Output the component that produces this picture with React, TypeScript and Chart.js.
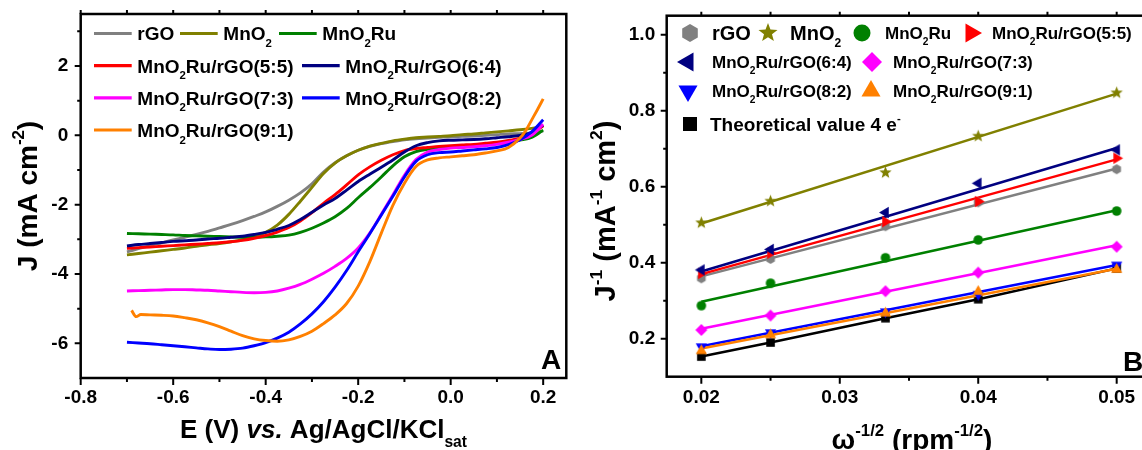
import React, { useEffect, useRef } from 'react';
import { Chart, registerables } from 'chart.js';

Chart.register(...registerables);

const FONT = '"Liberation Sans", Arial, Helvetica, sans-serif';

// ================= Panel A : LSV curves, J (mA cm^-2) vs E (V) =================
const E_GRID = [-0.700, -0.675, -0.650, -0.625, -0.600, -0.575, -0.550, -0.525, -0.500, -0.475, -0.450, -0.425, -0.400, -0.375, -0.350, -0.325, -0.300, -0.275, -0.250, -0.225, -0.200, -0.175, -0.150, -0.125, -0.100, -0.075, -0.050, -0.025, 0.000, 0.025, 0.050, 0.075, 0.100, 0.125, 0.150, 0.175, 0.200];
const J_RGO = [-3.36, -3.27, -3.18, -3.10, -3.02, -2.94, -2.86, -2.77, -2.67, -2.57, -2.46, -2.34, -2.21, -2.05, -1.87, -1.66, -1.40, -1.06, -0.79, -0.59, -0.43, -0.32, -0.24, -0.18, -0.13, -0.10, -0.08, -0.06, -0.04, -0.03, -0.02, 0.00, 0.02, 0.04, 0.05, 0.07, 0.12];
const J_MNO2 = [-3.45, -3.41, -3.37, -3.33, -3.29, -3.25, -3.20, -3.16, -3.12, -3.07, -3.01, -2.93, -2.80, -2.59, -2.28, -1.90, -1.50, -1.10, -0.80, -0.59, -0.43, -0.31, -0.23, -0.16, -0.11, -0.07, -0.05, -0.03, -0.01, 0.02, 0.04, 0.07, 0.10, 0.13, 0.16, 0.20, 0.25];
const J_MNO2RU = [-2.83, -2.84, -2.85, -2.86, -2.87, -2.89, -2.90, -2.91, -2.92, -2.93, -2.94, -2.94, -2.93, -2.91, -2.88, -2.80, -2.68, -2.53, -2.35, -2.11, -1.80, -1.51, -1.20, -0.88, -0.62, -0.47, -0.40, -0.36, -0.33, -0.31, -0.29, -0.27, -0.24, -0.20, -0.14, -0.06, 0.15];
const J_55 = [-3.26, -3.24, -3.22, -3.20, -3.18, -3.16, -3.14, -3.12, -3.10, -3.07, -3.03, -2.97, -2.89, -2.79, -2.66, -2.47, -2.23, -1.96, -1.71, -1.43, -1.14, -0.91, -0.72, -0.56, -0.44, -0.38, -0.35, -0.32, -0.30, -0.28, -0.26, -0.23, -0.20, -0.15, -0.08, 0.03, 0.28];
const J_64 = [-3.19, -3.15, -3.12, -3.09, -3.06, -3.04, -3.02, -2.99, -2.97, -2.94, -2.91, -2.86, -2.80, -2.71, -2.60, -2.43, -2.22, -2.01, -1.82, -1.58, -1.33, -1.12, -0.92, -0.71, -0.48, -0.30, -0.21, -0.16, -0.14, -0.13, -0.12, -0.10, -0.07, -0.04, 0.00, 0.08, 0.30];
const J_73 = [-4.49, -4.48, -4.47, -4.46, -4.45, -4.45, -4.46, -4.47, -4.49, -4.51, -4.53, -4.54, -4.53, -4.49, -4.41, -4.30, -4.15, -3.98, -3.78, -3.55, -3.25, -2.82, -2.28, -1.72, -1.15, -0.70, -0.48, -0.41, -0.37, -0.35, -0.33, -0.30, -0.26, -0.20, -0.12, 0.00, 0.32];
const J_82 = [-5.97, -5.99, -6.01, -6.04, -6.07, -6.10, -6.13, -6.16, -6.18, -6.17, -6.14, -6.07, -5.98, -5.85, -5.68, -5.44, -5.15, -4.80, -4.38, -3.90, -3.36, -2.84, -2.30, -1.76, -1.20, -0.75, -0.56, -0.50, -0.48, -0.45, -0.42, -0.39, -0.35, -0.27, -0.13, 0.10, 0.45];
const E_91 = [-0.69, -0.68, -0.67, -0.65, -0.625, -0.600, -0.575, -0.550, -0.525, -0.500, -0.475, -0.450, -0.425, -0.400, -0.375, -0.350, -0.325, -0.300, -0.275, -0.250, -0.225, -0.200, -0.175, -0.150, -0.125, -0.100, -0.075, -0.050, -0.025, 0.000, 0.025, 0.050, 0.075, 0.100, 0.125, 0.150, 0.1625, 0.175, 0.1875, 0.200];
const J_91 = [-5.05, -5.23, -5.17, -5.18, -5.19, -5.21, -5.26, -5.32, -5.41, -5.52, -5.65, -5.78, -5.87, -5.92, -5.94, -5.90, -5.80, -5.65, -5.43, -5.18, -4.85, -4.35, -3.65, -2.82, -2.02, -1.38, -0.90, -0.71, -0.65, -0.62, -0.59, -0.56, -0.51, -0.45, -0.35, -0.08, 0.14, 0.44, 0.74, 1.05];

const LABELS = ['rGO', 'MnO_{2}', 'MnO_{2}Ru', 'MnO_{2}Ru/rGO(5:5)', 'MnO_{2}Ru/rGO(6:4)', 'MnO_{2}Ru/rGO(7:3)', 'MnO_{2}Ru/rGO(8:2)', 'MnO_{2}Ru/rGO(9:1)'];
const COLORS = ['#808080', '#808000', '#008000', '#ff0000', '#000080', '#ff00ff', '#0000ff', '#ff8000'];

const A_X_MAJOR = [-0.8, -0.6, -0.4, -0.2, 0.0, 0.2];
const A_X_MINOR = [-0.7, -0.5, -0.3, -0.1, 0.1];
const A_Y_MAJOR = [-6, -4, -2, 0, 2];
const A_Y_MINOR = [-5, -3, -1, 1, 3];
const A_X_TITLE = 'E (V) *vs.* Ag/AgCl/KCl_{sat}';
const A_Y_TITLE = 'J (mA cm^{-2})';

// ================= Panel B : Koutecky-Levich, 1/J vs w^-1/2 =================
const W_INV_SQRT = [0.02, 0.025, 0.0333, 0.04, 0.05];
const KL_RGO = [0.359, 0.410, 0.496, 0.559, 0.646];
const KL_MNO2 = [0.505, 0.562, 0.637, 0.733, 0.847];
const KL_MNO2RU = [0.287, 0.346, 0.413, 0.460, 0.536];
const KL_55 = [0.372, 0.425, 0.508, 0.561, 0.675];
const KL_64 = [0.381, 0.435, 0.532, 0.609, 0.697];
const KL_73 = [0.223, 0.261, 0.325, 0.374, 0.442];
const KL_82 = [0.179, 0.216, 0.271, 0.317, 0.394];
const KL_91 = [0.168, 0.210, 0.267, 0.324, 0.382];
const KL_THEO = [0.153, 0.190, 0.254, 0.304, 0.385];

const FIT_X = [0.02, 0.05];
const FIT_RGO = [0.364, 0.648];
const FIT_MNO2 = [0.503, 0.845];
const FIT_MNO2RU = [0.297, 0.538];
const FIT_55 = [0.370, 0.672];
const FIT_64 = [0.377, 0.702];
const FIT_73 = [0.226, 0.446];
const FIT_82 = [0.180, 0.394];
const FIT_91 = [0.174, 0.384];

const THEO_LABEL = 'Theoretical value 4 e^{-}';
const SHAPES = ['hexagon', 'star', 'circle', 'triRight', 'triLeft', 'diamond', 'triDown', 'triUp'];

const B_X_MAJOR = [0.02, 0.03, 0.04, 0.05];
const B_X_MINOR = [0.025, 0.035, 0.045];
const B_Y_MAJOR = [0.2, 0.4, 0.6, 0.8, 1.0];
const B_Y_MINOR = [0.3, 0.5, 0.7, 0.9];
const B_X_TITLE = 'ω^{-1/2} (rpm^{-1/2})';
const B_Y_TITLE = 'J^{-1} (mA^{-1} cm^{2})';

// ================= helpers =================
type Seg = { t: string; sub?: boolean; sup?: boolean; it?: boolean };

function parseRich(s: string): Seg[] {
  const segs: Seg[] = [];
  let buf = '';
  let it = false;
  let i = 0;
  const flush = () => {
    if (buf) { segs.push({ t: buf, it }); buf = ''; }
  };
  while (i < s.length) {
    const c = s[i];
    if ((c === '_' || c === '^') && s[i + 1] === '{') {
      flush();
      const end = s.indexOf('}', i + 2);
      segs.push({ t: s.slice(i + 2, end), sub: c === '_', sup: c === '^', it });
      i = end + 1;
      continue;
    }
    if (c === '*') { flush(); it = !it; i++; continue; }
    buf += c;
    i++;
  }
  flush();
  return segs;
}

function segFont(sg: Seg, size: number) {
  const sz = sg.sub || sg.sup ? size * 0.6 : size;
  return `${sg.it ? 'italic ' : ''}bold ${sz}px ${FONT}`;
}

function drawRich(ctx: CanvasRenderingContext2D, s: string, x: number, y: number, size: number, align: 'left' | 'center' | 'right', color = '#000') {
  const segs = parseRich(s);
  ctx.save();
  let w = 0;
  const widths = segs.map((sg) => {
    ctx.font = segFont(sg, size);
    const m = ctx.measureText(sg.t).width;
    w += m;
    return m;
  });
  let cx = align === 'left' ? x : align === 'center' ? x - w / 2 : x - w;
  ctx.fillStyle = color;
  ctx.textAlign = 'left';
  ctx.textBaseline = 'alphabetic';
  segs.forEach((sg, k) => {
    ctx.font = segFont(sg, size);
    const dy = sg.sub ? size * 0.36 : sg.sup ? -size * 0.45 : 0;
    ctx.fillText(sg.t, cx, y + dy);
    cx += widths[k];
  });
  ctx.restore();
  return w;
}

function markerPath(ctx: CanvasRenderingContext2D, shape: string, x: number, y: number, r: number) {
  ctx.beginPath();
  if (shape === 'circle') {
    ctx.arc(x, y, r, 0, Math.PI * 2);
  } else if (shape === 'square') {
    ctx.rect(x - r, y - r, 2 * r, 2 * r);
  } else if (shape === 'diamond') {
    ctx.moveTo(x, y - r); ctx.lineTo(x + r, y); ctx.lineTo(x, y + r); ctx.lineTo(x - r, y);
  } else if (shape === 'hexagon') {
    for (let k = 0; k < 6; k++) {
      const a = -Math.PI / 2 + (k * Math.PI) / 3;
      const px = x + r * Math.cos(a);
      const py = y + r * Math.sin(a);
      if (k) ctx.lineTo(px, py); else ctx.moveTo(px, py);
    }
  } else if (shape === 'star') {
    for (let k = 0; k < 10; k++) {
      const a = -Math.PI / 2 + (k * Math.PI) / 5;
      const rr = k % 2 ? r * 0.42 : r;
      const px = x + rr * Math.cos(a);
      const py = y + rr * Math.sin(a);
      if (k) ctx.lineTo(px, py); else ctx.moveTo(px, py);
    }
  } else {
    const base = shape === 'triUp' ? -90 : shape === 'triDown' ? 90 : shape === 'triLeft' ? 180 : 0;
    for (let k = 0; k < 3; k++) {
      const a = ((base + k * 120) * Math.PI) / 180;
      const px = x + r * Math.cos(a);
      const py = y + r * Math.sin(a);
      if (k) ctx.lineTo(px, py); else ctx.moveTo(px, py);
    }
  }
  ctx.closePath();
}

function drawMarker(ctx: CanvasRenderingContext2D, shape: string, x: number, y: number, r: number, color: string) {
  ctx.save();
  ctx.fillStyle = color;
  markerPath(ctx, shape, x, y, r);
  ctx.fill();
  ctx.restore();
}

function markerImage(shape: string, r: number, color: string) {
  const c = document.createElement('canvas');
  const s = Math.ceil(2 * r + 2);
  c.width = s;
  c.height = s;
  const cx = c.getContext('2d') as CanvasRenderingContext2D;
  drawMarker(cx, shape, s / 2, s / 2, r, color);
  return c;
}

function drawBoxAndTicks(ctx: CanvasRenderingContext2D, ca: any, sx: any, sy: any, xMaj: number[], xMin: number[], yMaj: number[], yMin: number[]) {
  ctx.save();
  ctx.strokeStyle = '#000';
  ctx.lineWidth = 2;
  ctx.beginPath();
  const seg = (x1: number, y1: number, x2: number, y2: number) => { ctx.moveTo(x1, y1); ctx.lineTo(x2, y2); };
  xMaj.forEach((v) => { const x = sx.getPixelForValue(v); seg(x, ca.bottom, x, ca.bottom + 7); seg(x, ca.top, x, ca.top - 4); });
  xMin.forEach((v) => { const x = sx.getPixelForValue(v); seg(x, ca.bottom, x, ca.bottom + 4); seg(x, ca.top, x, ca.top - 4); });
  yMaj.forEach((v) => { const y = sy.getPixelForValue(v); seg(ca.left, y, ca.left - 6, y); });
  yMin.forEach((v) => { const y = sy.getPixelForValue(v); seg(ca.left, y, ca.left - 3.5, y); });
  ctx.stroke();
  ctx.lineWidth = 2.5;
  ctx.strokeRect(ca.left, ca.top, ca.right - ca.left, ca.bottom - ca.top);
  ctx.restore();
}

const tickFont = { family: FONT, weight: 'bold' as const, size: 19 };

// layout (positions only)
const A_CANVAS_W = 575;
const B_CANVAS_LEFT = 575;
const B_CANVAS_W = 590;
const A_LEGEND_POS = [[94, 0], [180, 0], [279, 0], [94, 1], [302, 1], [94, 2], [302, 2], [94, 3]];
const A_LEGEND_ROWS = [33.5, 65.7, 97.8, 130];
const B_LEGEND_POS = [[690, 712, 0, 20], [768, 790, 0, 20], [862, 885, 0, 17], [971, 992, 0, 17], [688, 712, 1, 17], [872, 893, 1, 17], [688, 712, 2, 17], [871, 893, 2, 17], [690, 710, 3, 19]];
const B_LEGEND_ROWS = [33, 62, 91, 124];
const B_LEGEND_R = [9, 10, 8.5, 11, 11, 10, 11, 11, 7];
const B_POINT_R = [5, 6.5, 4.8, 6.5, 6.5, 6, 6.5, 6.5, 4.3];

export default function App() {
  const refA = useRef<HTMLCanvasElement>(null);
  const refB = useRef<HTMLCanvasElement>(null);

  useEffect(() => {
    const seriesA = [
      { e: E_GRID, j: J_RGO }, { e: E_GRID, j: J_MNO2 }, { e: E_GRID, j: J_MNO2RU },
      { e: E_GRID, j: J_55 }, { e: E_GRID, j: J_64 }, { e: E_GRID, j: J_73 },
      { e: E_GRID, j: J_82 }, { e: E_91, j: J_91 },
    ];

    const pluginA = {
      id: 'panelA',
      afterDraw(chart: any) {
        const { ctx, chartArea: ca, scales } = chart;
        drawBoxAndTicks(ctx, ca, scales.x, scales.y, A_X_MAJOR, A_X_MINOR, A_Y_MAJOR, A_Y_MINOR);
        LABELS.forEach((lab, i) => {
          const [lx, row] = A_LEGEND_POS[i];
          const cy = A_LEGEND_ROWS[row];
          ctx.save();
          ctx.strokeStyle = COLORS[i];
          ctx.lineWidth = 3.2;
          ctx.beginPath();
          ctx.moveTo(lx, cy);
          ctx.lineTo(lx + 37.7, cy);
          ctx.stroke();
          ctx.restore();
          drawRich(ctx, lab, lx + 43.3, cy + 6.8, 19, 'left');
        });
        drawRich(ctx, A_X_TITLE, (ca.left + ca.right) / 2, 437.7, 26, 'center');
        ctx.save();
        ctx.translate(36.7, (ca.top + ca.bottom) / 2);
        ctx.rotate(-Math.PI / 2);
        drawRich(ctx, A_Y_TITLE, 0, 0, 28, 'center');
        ctx.restore();
        drawRich(ctx, 'A', ca.right - 5, ca.bottom - 9, 28, 'right');
      },
    };

    const chartA = new Chart(refA.current as HTMLCanvasElement, {
      type: 'line',
      data: {
        datasets: seriesA.map((s, i) => ({
          label: LABELS[i],
          data: s.e.map((x, k) => ({ x, y: s.j[k] })),
          borderColor: COLORS[i],
          backgroundColor: COLORS[i],
          borderWidth: 2.9,
          pointRadius: 0,
          fill: false,
          cubicInterpolationMode: 'monotone' as const,
          order: 8 - i,
        })),
      },
      options: {
        animation: false,
        responsive: false,
        events: [],
        layout: { padding: { top: 14, right: A_CANVAS_W - 566.3, left: 0, bottom: 0 } },
        plugins: { legend: { display: false }, tooltip: { enabled: false } },
        scales: {
          x: {
            type: 'linear', min: -0.8, max: 0.25,
            grid: { display: false, drawTicks: false }, border: { display: false },
            ticks: { font: tickFont, color: '#000', padding: 8, maxRotation: 0, autoSkip: false, callback: (v: any) => Number(v).toFixed(1) },
            afterBuildTicks: (s: any) => { s.ticks = A_X_MAJOR.map((v) => ({ value: v })); },
            afterFit: (s: any) => { s.height = 72; s.paddingLeft = 0; s.paddingRight = 0; s.paddingTop = 0; s.paddingBottom = 0; },
          },
          y: {
            type: 'linear', min: -7, max: 3.5,
            grid: { display: false, drawTicks: false }, border: { display: false },
            ticks: { font: tickFont, color: '#000', padding: 12.5, autoSkip: false, callback: (v: any) => String(Math.round(Number(v))) },
            afterBuildTicks: (s: any) => { s.ticks = A_Y_MAJOR.map((v) => ({ value: v })); },
            afterFit: (s: any) => { s.width = 80.7; s.paddingLeft = 0; s.paddingRight = 0; s.paddingTop = 0; s.paddingBottom = 0; },
          },
        },
      } as any,
      plugins: [pluginA],
    });

    // ---------- Panel B ----------
    const klPts = [KL_RGO, KL_MNO2, KL_MNO2RU, KL_55, KL_64, KL_73, KL_82, KL_91];
    const klFits = [FIT_RGO, FIT_MNO2, FIT_MNO2RU, FIT_55, FIT_64, FIT_73, FIT_82, FIT_91];
    const datasetsB: any[] = [];
    datasetsB.push({
      type: 'scatter',
      label: THEO_LABEL,
      data: W_INV_SQRT.map((x, k) => ({ x, y: KL_THEO[k] })),
      showLine: true,
      borderColor: '#000',
      borderWidth: 2.5,
      pointStyle: markerImage('square', B_POINT_R[8], '#000'),
      pointRadius: 5,
      order: 20,
    });
    klFits.forEach((f, i) => {
      datasetsB.push({
        type: 'line',
        label: LABELS[i] + ' fit',
        data: FIT_X.map((x, k) => ({ x, y: f[k] })),
        borderColor: COLORS[i],
        borderWidth: 2.5,
        pointRadius: 0,
        fill: false,
        order: 10 + (8 - i),
      });
    });
    klPts.forEach((p, i) => {
      datasetsB.push({
        type: 'scatter',
        label: LABELS[i],
        data: W_INV_SQRT.map((x, k) => ({ x, y: p[k] })),
        showLine: false,
        pointStyle: markerImage(SHAPES[i], B_POINT_R[i], COLORS[i]),
        pointRadius: 6,
        order: 8 - i,
      });
    });

    const pluginB = {
      id: 'panelB',
      afterDraw(chart: any) {
        const { ctx, chartArea: ca, scales } = chart;
        drawBoxAndTicks(ctx, ca, scales.x, scales.y, B_X_MAJOR, B_X_MINOR, B_Y_MAJOR, B_Y_MINOR);
        const legendLabels = [...LABELS, THEO_LABEL];
        const legendShapes = [...SHAPES, 'square'];
        const legendColors = [...COLORS, '#000'];
        legendLabels.forEach((lab, i) => {
          const [mx, tx, row, fs] = B_LEGEND_POS[i];
          const cy = B_LEGEND_ROWS[row];
          drawMarker(ctx, legendShapes[i], mx - B_CANVAS_LEFT, cy, B_LEGEND_R[i], legendColors[i]);
          drawRich(ctx, lab, tx - B_CANVAS_LEFT, cy + fs * 0.36, fs, 'left');
        });
        drawRich(ctx, B_X_TITLE, 912 - B_CANVAS_LEFT, 449, 28, 'center');
        ctx.save();
        ctx.translate(615 - B_CANVAS_LEFT, 211);
        ctx.rotate(-Math.PI / 2);
        drawRich(ctx, B_Y_TITLE, 0, 0, 29, 'center');
        ctx.restore();
        drawRich(ctx, 'B', ca.right - 8, ca.bottom - 6, 28, 'right');
      },
    };

    const chartB = new Chart(refB.current as HTMLCanvasElement, {
      type: 'scatter',
      data: { datasets: datasetsB },
      options: {
        animation: false,
        responsive: false,
        events: [],
        layout: { padding: { top: 15.7, right: B_CANVAS_W - (1151.3 - B_CANVAS_LEFT), left: 0, bottom: 0 } },
        plugins: { legend: { display: false }, tooltip: { enabled: false } },
        scales: {
          x: {
            type: 'linear', min: 0.0175, max: 0.0525,
            grid: { display: false, drawTicks: false }, border: { display: false },
            ticks: { font: tickFont, color: '#000', padding: 10, maxRotation: 0, autoSkip: false, callback: (v: any) => Number(v).toFixed(2) },
            afterBuildTicks: (s: any) => { s.ticks = B_X_MAJOR.map((v) => ({ value: v })); },
            afterFit: (s: any) => { s.height = 450 - 376.7; s.paddingLeft = 0; s.paddingRight = 0; s.paddingTop = 0; s.paddingBottom = 0; },
          },
          y: {
            type: 'linear', min: 0.1, max: 1.05,
            grid: { display: false, drawTicks: false }, border: { display: false },
            ticks: { font: tickFont, color: '#000', padding: 11.5, autoSkip: false, callback: (v: any) => Number(v).toFixed(1) },
            afterBuildTicks: (s: any) => { s.ticks = B_Y_MAJOR.map((v) => ({ value: v })); },
            afterFit: (s: any) => { s.width = 666.7 - B_CANVAS_LEFT; s.paddingLeft = 0; s.paddingRight = 0; s.paddingTop = 0; s.paddingBottom = 0; },
          },
        },
      } as any,
      plugins: [pluginB],
    });

    return () => {
      chartA.destroy();
      chartB.destroy();
    };
  }, []);

  return (
    <div style={{ position: 'fixed', left: 0, top: 0, width: 1142, height: 450, overflow: 'hidden', background: '#fff' }}>
      <canvas ref={refA} width={A_CANVAS_W} height={450} style={{ position: 'absolute', left: 0, top: 0 }} />
      <canvas ref={refB} width={B_CANVAS_W} height={450} style={{ position: 'absolute', left: B_CANVAS_LEFT, top: 0 }} />
    </div>
  );
}
